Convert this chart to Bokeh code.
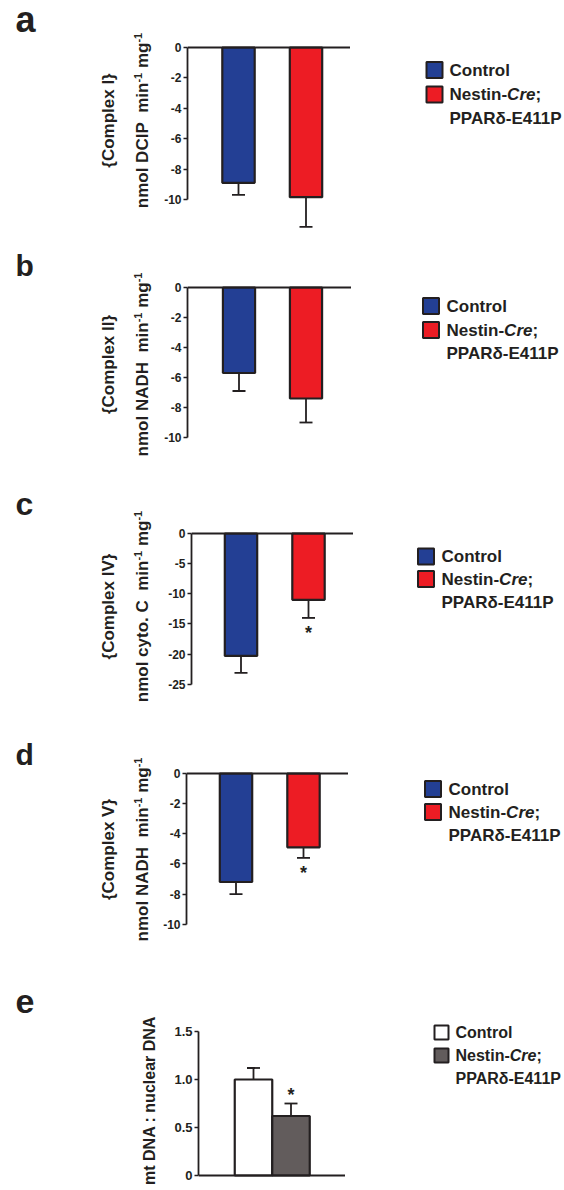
import math
from bokeh.plotting import figure
from bokeh.layouts import column, row
from bokeh.models import (Range1d, FixedTicker, CustomJSTickFormatter, Whisker,
                          TeeHead, ColumnDataSource, Span)
from bokeh.core.properties import value
from bokeh.embed import file_html
from bokeh.resources import INLINE

# ---------------- data ----------------
groups = ["Control", "Nestin-Cre; PPARδ-E411P"]

complex1_mean = [-8.9, -9.85]
complex1_err = [0.8, 1.95]
complex1_sig = [False, False]

complex2_mean = [-5.7, -7.4]
complex2_err = [1.2, 1.6]
complex2_sig = [False, False]

complex4_mean = [-20.3, -11.0]
complex4_err = [2.8, 3.0]
complex4_sig = [False, True]

complex5_mean = [-7.2, -4.9]
complex5_err = [0.8, 0.7]
complex5_sig = [False, True]

mtdna_mean = [1.0, 0.62]
mtdna_err = [0.12, 0.13]
mtdna_sig = [False, True]

ticks_a = [0, -2, -4, -6, -8, -10]
ticks_b = [0, -2, -4, -6, -8, -10]
ticks_c = [0, -5, -10, -15, -20, -25]
ticks_d = [0, -2, -4, -6, -8, -10]
ticks_e = [0, 0.5, 1.0, 1.5]

# ---------------- style ----------------
FONT_NAME = "Liberation Sans"
FONT = value(FONT_NAME)
INK = "#231f20"
COLORS_RG = ["#233f94", "#ed1c24"]
COLORS_E = ["#ffffff", "#625c5c"]

# Arial/Liberation Sans Bold advance widths (per 1000 em)
W = {' ': 278, '-': 333, '.': 278, ':': 333, ';': 333, '1': 556, '4': 556,
     'A': 722, 'C': 722, 'D': 722, 'E': 667, 'H': 722, 'I': 278, 'N': 722,
     'P': 667, 'R': 722, 'V': 667, 'a': 556, 'c': 556, 'e': 556, 'g': 611,
     'i': 278, 'l': 278, 'm': 889, 'n': 611, 'o': 611, 'r': 389, 's': 556,
     't': 333, 'u': 611, 'x': 556, 'y': 556, '{': 389, '}': 389, 'δ': 611}


def tw(s, size):
    return sum(W.get(ch, 556) for ch in s) / 1000.0 * size


def blank_fig(width, height):
    p = figure(width=width, height=height, x_range=Range1d(0, width),
               y_range=Range1d(0, height), x_axis_type=None, y_axis_type=None,
               toolbar_location=None, output_backend="svg", tools="",
               min_border=0, min_border_left=0, min_border_right=0,
               min_border_top=0, min_border_bottom=0)
    p.outline_line_color = None
    p.background_fill_color = "white"
    p.border_fill_color = "white"
    return p


def left_panel(width, height, letter, letter_size, letter_cy, line1, line1_x,
               line2, line2_x, center_y, size=17, sup=11):
    p = blank_fig(width, height)
    p.text(x=[15], y=[height - letter_cy], text=[letter], text_font=FONT,
           text_font_style="bold", text_font_size=f"{letter_size}px",
           text_align="left", text_baseline="middle", text_color=INK)
    if line1:
        p.text(x=[line1_x], y=[height - center_y], text=[line1], angle=math.pi / 2,
               text_font=FONT, text_font_style="bold", text_font_size=f"{size}px",
               text_align="center", text_baseline="middle", text_color=INK)
    # line2: list of (text, is_superscript)
    widths = [tw(t, sup if s else size) for t, s in line2]
    total = sum(widths)
    ycur = height - center_y - total / 2.0
    for (t, s), w in zip(line2, widths):
        if t.strip():
            p.text(x=[line2_x - (5 if s else 0)], y=[ycur], text=[t], angle=math.pi / 2,
                   text_font=FONT, text_font_style="bold",
                   text_font_size=f"{sup if s else size}px",
                   text_align="left", text_baseline="middle", text_color=INK)
        ycur += w
    return p


def legend_panel(width, height, sq_x, sq, text_x, rows, colors, fs):
    p = blank_fig(width, height)
    p.rect(x=[sq_x, sq_x], y=[height - rows[0], height - rows[1]], width=sq, height=sq,
           fill_color=colors, line_color=INK, line_width=2)
    kw = dict(text_font=FONT, text_font_size=f"{fs}px", text_align="left",
              text_baseline="middle", text_color=INK)
    p.text(x=[text_x], y=[height - rows[0]], text=[groups[0]], text_font_style="bold", **kw)
    first, second = groups[1].split(" ")
    i = first.index("Cre")
    pre, ital, post = first[:i], first[i:i + 3], first[i + 3:]
    x = text_x
    p.text(x=[x], y=[height - rows[1]], text=[pre], text_font_style="bold", **kw)
    x += tw(pre, fs)
    p.text(x=[x], y=[height - rows[1]], text=[ital], text_font_style="bold italic", **kw)
    x += tw(ital, fs)
    p.text(x=[x], y=[height - rows[1]], text=[post], text_font_style="bold", **kw)
    p.text(x=[text_x], y=[height - rows[2]], text=[second], text_font_style="bold", **kw)
    return p


def bar_panel(means, errs, sig, ticks, colors, *, H, Lw, axis_x, right, zero, ppu,
              c1, unit, bar_w, border_left, tick_size, decimals, positive=False):
    frame_w = right - axis_x
    x0 = 1 - c1 / unit
    xr = Range1d(x0, x0 + frame_w / unit)
    yr = Range1d(-(H - zero) / ppu, zero / ppu)
    p = figure(width=right - Lw, height=H, x_range=xr, y_range=yr,
               x_axis_location=None, toolbar_location=None, output_backend="svg",
               tools="", min_border_left=border_left, min_border_right=0,
               min_border_top=0, min_border_bottom=0)
    p.outline_line_color = None
    p.xgrid.visible = False
    p.ygrid.visible = False

    xs = [i + 1 for i in range(len(means))]
    if positive:
        lower = list(means)
        upper = [m + e for m, e in zip(means, errs)]
    else:
        lower = [m - e for m, e in zip(means, errs)]
        upper = list(means)
    src = ColumnDataSource(dict(x=xs, mean=means, lower=lower, upper=upper,
                                color=colors, group=groups))
    head = TeeHead(size=13, line_width=1.8, line_color=INK)
    if positive:
        wk = Whisker(base="x", lower="lower", upper="upper", source=src,
                     lower_head=None, upper_head=head, line_width=1.8, line_color=INK)
    else:
        wk = Whisker(base="x", lower="lower", upper="upper", source=src,
                     lower_head=head, upper_head=None, line_width=1.8, line_color=INK)
    p.add_layout(wk)
    p.vbar(x="x", top="mean", bottom=0, width=bar_w, source=src, fill_color="color",
           line_color=INK, line_width=2.2)

    # zero line (x-axis line)
    p.add_layout(Span(location=0, dimension="width", line_color=INK, line_width=1.8))

    sx, sy = [], []
    for x, m, e, s in zip(xs, means, errs, sig):
        if s:
            sx.append(x)
            sy.append(m + e + 9 / ppu if positive else m - e - 15 / ppu)
    if sx:
        p.text(x=sx, y=sy, text=["*"] * len(sx), text_font=FONT, text_font_style="bold",
               text_font_size="18px", text_align="center", text_baseline="middle",
               text_color=INK)

    ya = p.yaxis[0]
    ya.ticker = FixedTicker(ticks=ticks)
    ya.bounds = (min(ticks), max(ticks))
    ya.formatter = CustomJSTickFormatter(
        code="return tick == 0 ? '0' : tick.toFixed(%d);" % decimals)
    ya.major_tick_out = 4
    ya.major_tick_in = 0
    ya.minor_tick_line_color = None
    ya.major_tick_line_width = 1.3
    ya.major_tick_line_color = INK
    ya.axis_line_width = 1.8
    ya.axis_line_color = INK
    ya.major_label_text_font = FONT_NAME
    ya.major_label_text_font_style = "bold"
    ya.major_label_text_font_size = f"{tick_size}px"
    ya.major_label_text_color = INK
    ya.major_label_standoff = 2
    return p


def make_row(means, errs, sig, ticks, colors, lay, left, leg, positive=False,
             decimals=0, tick_size=12, border_left=34, legend_fs=17, title_size=17):
    Lw = lay["axis_x"] - border_left
    H = lay["H"]
    lp = left_panel(Lw, H, left["letter"], left["lsize"], left["lcy"], left["line1"],
                    left["l1x"], left["line2"], left["l2x"], left["cy"], size=title_size)
    bp = bar_panel(means, errs, sig, ticks, colors, H=H, Lw=Lw, axis_x=lay["axis_x"],
                   right=lay["right"], zero=lay["zero"], ppu=lay["ppu"], c1=lay["c1"],
                   unit=lay["unit"], bar_w=lay["bar_w"], border_left=border_left,
                   tick_size=tick_size, decimals=decimals, positive=positive)
    gp = legend_panel(564 - lay["right"], H, leg["sqx"], leg["sq"], leg["tx"],
                      leg["rows"], colors, legend_fs)
    return row(lp, bp, gp, spacing=0)


def sup_line(main):
    return [(main, False), (" ", False), (" ", False), ("min", False), ("-1", True),
            (" ", False), ("mg", False), ("-1", True)]


row_a = make_row(complex1_mean, complex1_err, complex1_sig, ticks_a, COLORS_RG,
                 dict(H=245, axis_x=187, right=350, zero=47, ppu=15.2, c1=51, unit=67.5, bar_w=0.48),
                 dict(letter="a", lsize=36, lcy=19, line1="{Complex I}", l1x=108,
                      line2=sup_line("nmol DCIP"), l2x=142, cy=120),
                 dict(sqx=84, sq=16, tx=99, rows=[69.5, 94, 117.5]))

row_b = make_row(complex2_mean, complex2_err, complex2_sig, ticks_b, COLORS_RG,
                 dict(H=235, axis_x=187, right=351, zero=42, ppu=15.0, c1=51.5, unit=67, bar_w=0.48),
                 dict(letter="b", lsize=30, lcy=20, line1="{Complex II}", l1x=108,
                      line2=sup_line("nmol NADH"), l2x=142, cy=119),
                 dict(sqx=79.5, sq=16, tx=95, rows=[60.5, 84.5, 107.5]))

row_c = make_row(complex4_mean, complex4_err, complex4_sig, ticks_c, COLORS_RG,
                 dict(H=240, axis_x=191, right=353, zero=53, ppu=6.03, c1=49.5, unit=67.5, bar_w=0.48),
                 dict(letter="c", lsize=32, lcy=23, line1="{Complex IV}", l1x=108,
                      line2=sup_line("nmol cyto. C"), l2x=142, cy=126),
                 dict(sqx=72.5, sq=16, tx=88, rows=[76, 98.5, 121.5]))

row_d = make_row(complex5_mean, complex5_err, complex5_sig, ticks_d, COLORS_RG,
                 dict(H=235, axis_x=186, right=348, zero=53, ppu=15.07, c1=49.5, unit=67.5, bar_w=0.48),
                 dict(letter="d", lsize=30, lcy=34, line1="{Complex V}", l1x=108,
                      line2=sup_line("nmol NADH"), l2x=142, cy=129),
                 dict(sqx=84.5, sq=16, tx=100, rows=[68.5, 91.5, 114.5]))

row_e = make_row(mtdna_mean, mtdna_err, mtdna_sig, ticks_e, COLORS_E,
                 dict(H=235, axis_x=198, right=345, zero=220, ppu=96, c1=55, unit=37.5, bar_w=1.0),
                 dict(letter="e", lsize=34, lcy=46, line1=None, l1x=0,
                      line2=[("mt DNA : nuclear DNA", False)], l2x=149, cy=145),
                 dict(sqx=96, sq=14, tx=110, rows=[77, 100, 123]),
                 positive=True, decimals=1, tick_size=13, border_left=40, legend_fs=16,
                 title_size=16)

layout = column(row_a, row_b, row_c, row_d, row_e, spacing=0)

open("out.html", "w").write(file_html(layout, INLINE))
